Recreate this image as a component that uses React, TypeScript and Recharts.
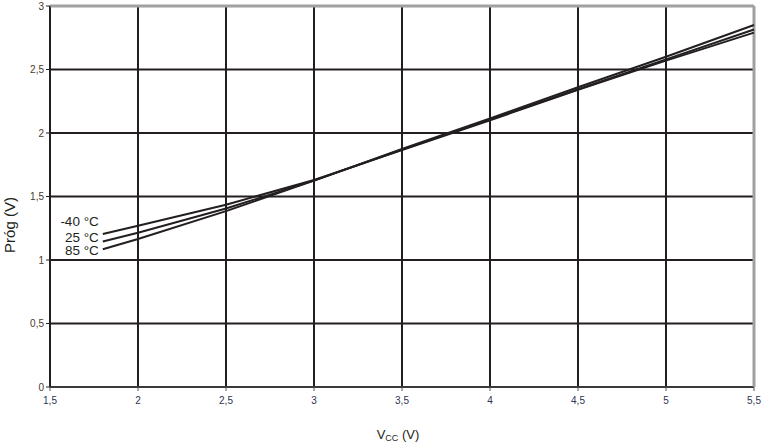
import { LineChart, Line, XAxis, YAxis, CartesianGrid, ReferenceLine, Label } from 'recharts'

const vccValues = [1.8, 2, 2.5, 3, 3.5, 4, 4.5, 5, 5.5]
const minus40 = [1.205, 1.27, 1.435, 1.63, 1.865, 2.1, 2.34, 2.57, 2.79]
const plus25 = [1.145, 1.215, 1.405, 1.625, 1.87, 2.105, 2.345, 2.58, 2.815]
const plus85 = [1.085, 1.165, 1.385, 1.625, 1.875, 2.115, 2.36, 2.6, 2.85]

const xTicks = [1.5, 2, 2.5, 3, 3.5, 4, 4.5, 5, 5.5]
const yTicks = [0, 0.5, 1, 1.5, 2, 2.5, 3]

const seriesNames = ['-40 °C', '25 °C', '85 °C']

const data = vccValues.map((v, i) => ({ vcc: v, t1: minus40[i], t2: plus25[i], t3: plus85[i] }))

const ink = '#231f20'
const font = '"Liberation Sans", Arial, sans-serif'
const fmt = (v: number) => String(v).replace('.', ',')

// label drawn only next to the first point of each curve
const startLabel = (text: string, dy: number) => (props: any) => {
  if (props.index !== 0) return null
  return (
    <text x={props.x - 4} y={props.y + dy} textAnchor="end" fontSize={13.5} fill={ink} fontFamily={font}>
      {text}
    </text>
  )
}

export default function App() {
  return (
    <div style={{ position: 'absolute', left: 0, top: 0, background: '#fff' }}>
      <LineChart width={766} height={443} data={data} margin={{ top: 6, right: 12, left: 0, bottom: 0 }}>
        <CartesianGrid stroke={ink} strokeWidth={2} />
        <XAxis
          dataKey="vcc"
          type="number"
          domain={[1.5, 5.5]}
          ticks={xTicks}
          tickFormatter={fmt}
          height={56}
          stroke="#555"
          tickSize={4}
          tick={{ fontSize: 10, fill: '#2b3550', fontFamily: font, dy: 4 }}
        >
          <Label
            content={() => (
              <text x={398} y={439} textAnchor="middle" fontSize={13} fill={ink} fontFamily={font}>
                V<tspan fontSize={9} dy={2}>CC</tspan>
                <tspan dy={-2}> (V)</tspan>
              </text>
            )}
          />
        </XAxis>
        <YAxis
          type="number"
          domain={[0, 3]}
          ticks={yTicks}
          tickFormatter={fmt}
          width={50}
          stroke={ink}
          tickSize={4}
          tick={{ fontSize: 10, fill: '#4a3a2a', fontFamily: font }}
        >
          <Label
            content={() => (
              <text x={15} y={225} transform="rotate(-90 15 225)" textAnchor="middle" fontSize={15} fill={ink} fontFamily={font}>
                Próg (V)
              </text>
            )}
          />
        </YAxis>
        <ReferenceLine y={3} stroke="#a0a0a0" strokeWidth={3} />
        <ReferenceLine x={5.5} stroke="#a0a0a0" strokeWidth={3} />
        <Line dataKey="t1" type="linear" stroke={ink} strokeWidth={2} dot={false} isAnimationActive={false} label={startLabel(seriesNames[0], -8)} />
        <Line dataKey="t2" type="linear" stroke={ink} strokeWidth={2} dot={false} isAnimationActive={false} label={startLabel(seriesNames[1], 0)} />
        <Line dataKey="t3" type="linear" stroke={ink} strokeWidth={2} dot={false} isAnimationActive={false} label={startLabel(seriesNames[2], 6)} />
      </LineChart>
    </div>
  )
}
